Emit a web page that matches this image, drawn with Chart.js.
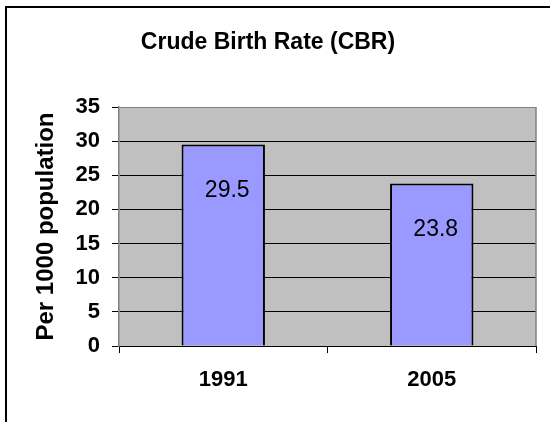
<!DOCTYPE html>
<html>
<head>
<meta charset="utf-8">
<script src="https://cdn.jsdelivr.net/npm/chart.js@4/dist/chart.umd.min.js"></script>
<style>
  html, body { margin: 0; padding: 0; background: #fff; }
  #wrap { width: 550px; height: 422px; }
</style>
</head>
<body>
<div id="wrap"><canvas id="cbrChart" width="550" height="422"></canvas></div>
<script>
// chart data
var years = ['1991', '2005'];
var cbrValues = [29.5, 23.8];
var yTicks = [0, 5, 10, 15, 20, 25, 30, 35];

var FONT = '"Liberation Sans", Arial, sans-serif';

// gray plot background + outer frame
var plotBg = {
    id: 'plotBg',
    beforeDraw: function(chart) {
        var a = chart.chartArea, c = chart.ctx;
        c.save();
        c.fillStyle = '#c0c0c0';
        c.fillRect(a.left, a.top, a.right - a.left, a.bottom - a.top);
        c.restore();
    },
    afterDraw: function(chart) {
        var a = chart.chartArea, c = chart.ctx;
        c.save();
        // right edge of the plot
        c.strokeStyle = '#808080';
        c.lineWidth = 1.5;
        c.beginPath();
        c.moveTo(a.right, a.top);
        c.lineTo(a.right, a.bottom);
        c.stroke();
        // frame (left + top, cut off by the picture)
        c.strokeStyle = '#000';
        c.lineWidth = 2;
        c.beginPath();
        c.moveTo(6, 422);
        c.lineTo(6, 7);
        c.lineTo(550, 7);
        c.stroke();
        c.restore();
    }
};

// values written inside the bars
var barLabels = {
    id: 'barLabels',
    afterDatasetsDraw: function(chart) {
        var c = chart.ctx;
        var meta = chart.getDatasetMeta(0);
        c.save();
        c.font = '23px ' + FONT;
        c.fillStyle = '#000';
        c.textAlign = 'center';
        c.textBaseline = 'middle';
        meta.data.forEach(function(bar, i) {
            c.fillText(String(cbrValues[i]), bar.x + 4, bar.y + 46);
        });
        c.restore();
    }
};

new Chart(document.getElementById('cbrChart').getContext('2d'), {
    type: 'bar',
    data: {
        labels: years,
        datasets: [{
            data: cbrValues,
            backgroundColor: '#9999ff',
            borderColor: '#000',
            borderWidth: 2,
            barPercentage: 0.4,
            categoryPercentage: 1.0
        }]
    },
    options: {
        responsive: false,
        animation: false,
        layout: { padding: { left: 0, right: 14, top: 0, bottom: 0 } },
        plugins: {
            legend: { display: false },
            tooltip: { enabled: false },
            title: {
                display: true,
                text: 'Crude Birth Rate (CBR)',
                color: '#000',
                font: { family: FONT, size: 23, weight: 'bold' },
                padding: { top: 29.2, bottom: 50.2 }
            }
        },
        scales: {
            x: {
                grid: { drawOnChartArea: false, offset: true, tickLength: 7, color: '#000' },
                border: { color: '#000', width: 1 },
                ticks: {
                    color: '#000',
                    padding: 14,
                    font: { family: FONT, size: 22, weight: 'bold' }
                },
                afterFit: function(scale) { scale.height = 76; }
            },
            y: {
                min: 0,
                max: 35,
                afterBuildTicks: function(scale) {
                    scale.ticks = yTicks.map(function(v) { return { value: v }; });
                },
                grid: {
                    color: function(ctx) { return ctx.tick && ctx.tick.value === 35 ? '#808080' : '#000'; },
                    tickColor: '#000',
                    tickLength: 7,
                    lineWidth: 1
                },
                border: { color: '#808080', width: 1.5 },
                ticks: {
                    color: '#000',
                    padding: 12,
                    font: { family: FONT, size: 22, weight: 'bold' }
                },
                title: {
                    display: true,
                    text: 'Per 1000 population',
                    color: '#000',
                    font: { family: FONT, size: 24, weight: 'bold' },
                    padding: { top: 31.6, bottom: 0 }
                },
                afterFit: function(scale) { scale.width = 119; }
            }
        }
    },
    plugins: [plotBg, barLabels]
});
</script>
</body>
</html>
